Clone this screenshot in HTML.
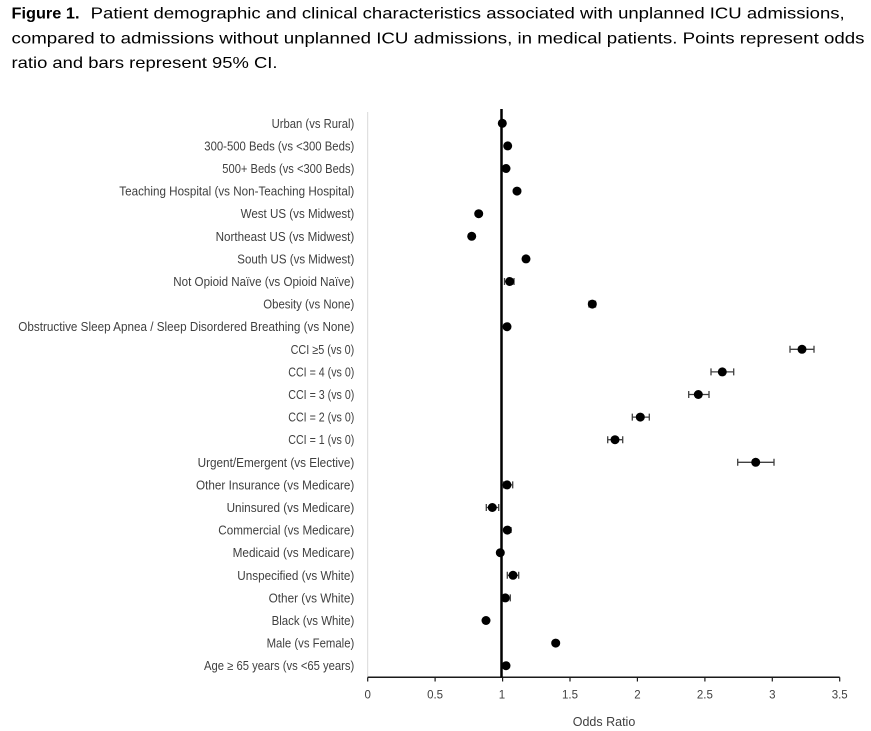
<!DOCTYPE html>
<html>
<head>
<meta charset="utf-8">
<style>
html,body{margin:0;padding:0;background:#fff;}
svg{display:block;}
</style>
</head>
<body>
<svg width="871" height="731" viewBox="0 0 871 731" xmlns="http://www.w3.org/2000/svg" font-family="'Liberation Sans', sans-serif">
<rect width="871" height="731" fill="#fff"/>
<!-- Title -->
<g font-size="16" fill="#000">
<text x="11.5" y="18.5" font-weight="bold" textLength="68" lengthAdjust="spacingAndGlyphs">Figure 1.</text>
<text x="90.7" y="18.5" textLength="754" lengthAdjust="spacingAndGlyphs">Patient demographic and clinical characteristics associated with unplanned ICU admissions,</text>
<text x="11.5" y="43.3" textLength="853" lengthAdjust="spacingAndGlyphs">compared to admissions without unplanned ICU admissions, in medical patients. Points represent odds</text>
<text x="11.5" y="67.8" textLength="266" lengthAdjust="spacingAndGlyphs">ratio and bars represent 95% CI.</text>
</g>

<!-- left gray axis -->
<line x1="367.7" y1="112" x2="367.7" y2="677.3" stroke="#d9d9d9" stroke-width="1"/>

<!-- category labels -->
<g font-size="12.5" fill="#404040" text-anchor="end">
<text x="354.3" y="127.8" textLength="82.7" lengthAdjust="spacingAndGlyphs">Urban (vs Rural)</text>
<text x="354.3" y="150.4" textLength="150" lengthAdjust="spacingAndGlyphs">300-500 Beds (vs &lt;300 Beds)</text>
<text x="354.3" y="173.0" textLength="132" lengthAdjust="spacingAndGlyphs">500+ Beds (vs &lt;300 Beds)</text>
<text x="354.3" y="195.6" textLength="235" lengthAdjust="spacingAndGlyphs">Teaching Hospital (vs Non-Teaching Hospital)</text>
<text x="354.3" y="218.2" textLength="113.7" lengthAdjust="spacingAndGlyphs">West US (vs Midwest)</text>
<text x="354.3" y="240.8" textLength="138.7" lengthAdjust="spacingAndGlyphs">Northeast US (vs Midwest)</text>
<text x="354.3" y="263.4" textLength="117" lengthAdjust="spacingAndGlyphs">South US (vs Midwest)</text>
<text x="354.3" y="286.0" textLength="181" lengthAdjust="spacingAndGlyphs">Not Opioid Naïve (vs Opioid Naïve)</text>
<text x="354.3" y="308.6" textLength="91" lengthAdjust="spacingAndGlyphs">Obesity (vs None)</text>
<text x="354.3" y="331.2" textLength="336" lengthAdjust="spacingAndGlyphs">Obstructive Sleep Apnea / Sleep Disordered Breathing (vs None)</text>
<text x="354.3" y="353.8" textLength="63.7" lengthAdjust="spacingAndGlyphs">CCI ≥5 (vs 0)</text>
<text x="354.3" y="376.4" textLength="66" lengthAdjust="spacingAndGlyphs">CCI = 4 (vs 0)</text>
<text x="354.3" y="399.0" textLength="66" lengthAdjust="spacingAndGlyphs">CCI = 3 (vs 0)</text>
<text x="354.3" y="421.6" textLength="66" lengthAdjust="spacingAndGlyphs">CCI = 2 (vs 0)</text>
<text x="354.3" y="444.2" textLength="66" lengthAdjust="spacingAndGlyphs">CCI = 1 (vs 0)</text>
<text x="354.3" y="466.8" textLength="156.7" lengthAdjust="spacingAndGlyphs">Urgent/Emergent (vs Elective)</text>
<text x="354.3" y="489.4" textLength="158.3" lengthAdjust="spacingAndGlyphs">Other Insurance (vs Medicare)</text>
<text x="354.3" y="512.0" textLength="127.7" lengthAdjust="spacingAndGlyphs">Uninsured (vs Medicare)</text>
<text x="354.3" y="534.6" textLength="136" lengthAdjust="spacingAndGlyphs">Commercial (vs Medicare)</text>
<text x="354.3" y="557.2" textLength="121.7" lengthAdjust="spacingAndGlyphs">Medicaid (vs Medicare)</text>
<text x="354.3" y="579.8" textLength="117" lengthAdjust="spacingAndGlyphs">Unspecified (vs White)</text>
<text x="354.3" y="602.4" textLength="85.7" lengthAdjust="spacingAndGlyphs">Other (vs White)</text>
<text x="354.3" y="625.0" textLength="82.7" lengthAdjust="spacingAndGlyphs">Black (vs White)</text>
<text x="354.3" y="647.6" textLength="87.7" lengthAdjust="spacingAndGlyphs">Male (vs Female)</text>
<text x="354.3" y="670.2" textLength="150.3" lengthAdjust="spacingAndGlyphs">Age ≥ 65 years (vs &lt;65 years)</text>
</g>

<!-- x axis -->
<line x1="367.7" y1="677.3" x2="839.7" y2="677.3" stroke="#1a1a1a" stroke-width="1.5"/>
<g stroke="#1a1a1a" stroke-width="1.2">
<line x1="367.7" y1="677.3" x2="367.7" y2="681.5"/>
<line x1="435.1" y1="677.3" x2="435.1" y2="681.5"/>
<line x1="502.6" y1="677.3" x2="502.6" y2="681.5"/>
<line x1="570.0" y1="677.3" x2="570.0" y2="681.5"/>
<line x1="637.4" y1="677.3" x2="637.4" y2="681.5"/>
<line x1="704.9" y1="677.3" x2="704.9" y2="681.5"/>
<line x1="772.3" y1="677.3" x2="772.3" y2="681.5"/>
<line x1="839.7" y1="677.3" x2="839.7" y2="681.5"/>
</g>
<g font-size="11.5" fill="#404040" text-anchor="middle">
<text x="367.7" y="698.3">0</text>
<text x="435.1" y="698.3">0.5</text>
<text x="502.0" y="698.3">1</text>
<text x="570.0" y="698.3">1.5</text>
<text x="637.4" y="698.3">2</text>
<text x="704.9" y="698.3">2.5</text>
<text x="772.3" y="698.3">3</text>
<text x="839.7" y="698.3">3.5</text>
</g>
<text x="604" y="726" font-size="12.5" fill="#404040" text-anchor="middle">Odds Ratio</text>

<!-- reference line at 1 -->
<line x1="501.5" y1="109" x2="501.5" y2="677.3" stroke="#000" stroke-width="2.5"/>

<!-- error bars -->
<g stroke="#404040" stroke-width="1.3" fill="none">
<!-- Not opioid naive -->
<path d="M504.5 281.5 H514 M504.5 278 V285 M514 278 V285"/>
<!-- Obesity -->
<path d="M589 304.1 H595.5 M589 300.6 V307.6 M595.5 300.6 V307.6"/>
<!-- CCI>=5 -->
<path d="M790 349.3 H814 M790 345.8 V352.8 M814 345.8 V352.8"/>
<!-- CCI4 -->
<path d="M711 371.9 H733.7 M711 368.4 V375.4 M733.7 368.4 V375.4"/>
<!-- CCI3 -->
<path d="M688.7 394.5 H709 M688.7 391 V398 M709 391 V398"/>
<!-- CCI2 -->
<path d="M632.3 417.1 H649.3 M632.3 413.6 V420.6 M649.3 413.6 V420.6"/>
<!-- CCI1 -->
<path d="M607.7 439.7 H622.7 M607.7 436.2 V443.2 M622.7 436.2 V443.2"/>
<!-- Urgent -->
<path d="M737.7 462.3 H774 M737.7 458.8 V465.8 M774 458.8 V465.8"/>
<!-- Other insurance -->
<path d="M503.5 484.9 H512.7 M503.5 481.4 V488.4 M512.7 481.4 V488.4"/>
<!-- Uninsured -->
<path d="M486.3 507.5 H498.7 M486.3 504 V511 M498.7 504 V511"/>
<!-- Unspecified -->
<path d="M507.3 575.3 H518.7 M507.3 571.8 V578.8 M518.7 571.8 V578.8"/>
<!-- Other -->
<path d="M501.5 597.9 H510.3 M510.3 594.4 V601.4"/>
<!-- Commercial small -->
<path d="M503.5 530.1 H511 M511 527 V533"/>
</g>

<!-- markers -->
<g fill="#000">
<circle cx="502.3" cy="123.3" r="4.5"/>
<circle cx="507.7" cy="145.9" r="4.5"/>
<circle cx="506" cy="168.5" r="4.5"/>
<circle cx="517" cy="191.1" r="4.5"/>
<circle cx="478.7" cy="213.7" r="4.5"/>
<circle cx="471.7" cy="236.3" r="4.5"/>
<circle cx="526" cy="258.9" r="4.5"/>
<circle cx="509.7" cy="281.5" r="4.5"/>
<circle cx="592.3" cy="304.1" r="4.5"/>
<circle cx="507" cy="326.7" r="4.5"/>
<circle cx="802" cy="349.3" r="4.5"/>
<circle cx="722.3" cy="371.9" r="4.5"/>
<circle cx="698.3" cy="394.5" r="4.5"/>
<circle cx="640.3" cy="417.1" r="4.5"/>
<circle cx="615" cy="439.7" r="4.5"/>
<circle cx="755.7" cy="462.3" r="4.5"/>
<circle cx="507" cy="484.9" r="4.5"/>
<circle cx="492.3" cy="507.5" r="4.5"/>
<circle cx="507.3" cy="530.1" r="4.5"/>
<circle cx="500.3" cy="552.7" r="4.5"/>
<circle cx="513" cy="575.3" r="4.5"/>
<circle cx="505.3" cy="597.9" r="4.5"/>
<circle cx="486" cy="620.5" r="4.5"/>
<circle cx="555.7" cy="643.1" r="4.5"/>
<circle cx="506" cy="665.7" r="4.5"/>
</g>
</svg>
</body>
</html>
